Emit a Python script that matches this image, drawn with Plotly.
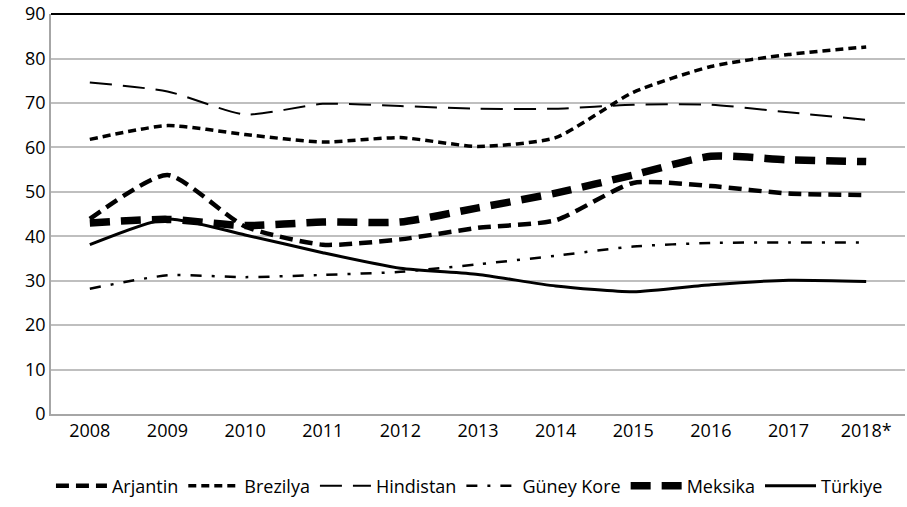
import plotly.graph_objects as go

years = ["2008", "2009", "2010", "2011", "2012", "2013", "2014", "2015", "2016", "2017", "2018*"]

arjantin = [43.9, 53.8, 42.2, 38.1, 39.3, 41.9, 43.6, 52.0, 51.3, 49.6, 49.3]
brezilya = [61.8, 64.9, 62.9, 61.2, 62.2, 60.2, 62.2, 72.4, 78.2, 80.9, 82.6]
hindistan = [74.6, 72.6, 67.4, 69.8, 69.3, 68.7, 68.7, 69.6, 69.6, 67.9, 66.2]
guney_kore = [28.2, 31.2, 30.8, 31.3, 32.0, 33.7, 35.6, 37.7, 38.5, 38.6, 38.6]
meksika = [43.0, 43.8, 42.4, 43.2, 43.2, 46.4, 49.7, 53.8, 58.0, 57.2, 56.8]
turkiye = [38.1, 43.9, 40.3, 36.3, 32.8, 31.4, 28.8, 27.5, 29.1, 30.1, 29.8]

series = [
    ("Arjantin", arjantin, 4.5, "13px,7px"),
    ("Brezilya", brezilya, 3.5, "8px,5px"),
    ("Hindistan", hindistan, 2, "22px,11px"),
    ("Güney Kore", guney_kore, 2.5, "11px,10px,3px,10px"),
    ("Meksika", meksika, 7.5, "20px,11px"),
    ("Türkiye", turkiye, 3, "solid"),
]

fig = go.Figure()
for name, vals, w, dash in series:
    fig.add_trace(go.Scatter(
        x=years, y=vals, name=name, mode="lines",
        line=dict(color="black", width=w, dash=dash, shape="spline", smoothing=0.6),
    ))

fig.update_layout(
    width=907, height=507,
    margin=dict(l=51, r=2, t=14, b=88),
    paper_bgcolor="white", plot_bgcolor="white",
    font=dict(family="Open Sans, Liberation Sans", size=18, color="black"),
    showlegend=True,
    legend=dict(orientation="h", x=0.49, xanchor="center", y=-0.18, yanchor="middle",
                font=dict(size=18), itemwidth=51, tracegroupgap=0,
                traceorder="normal"),
    xaxis=dict(type="category", range=[-0.5, 10.5], showgrid=False, automargin=False,
               showline=True, linecolor="#a6a6a6", linewidth=1.5,
               ticks="", tickfont=dict(size=18)),
    yaxis=dict(range=[0, 90.02], dtick=10, showgrid=True, gridcolor="#bfbfbf",
               gridwidth=1.5, showline=True, linecolor="#a6a6a6", linewidth=1.5,
               zeroline=False, ticks="", tickfont=dict(size=18), automargin=False,
               ticklabeloverflow="allow"),
    shapes=[dict(type="line", xref="paper", yref="paper", x0=0, x1=1, y0=1, y1=1,
                 line=dict(color="black", width=2))],
)

fig.write_html("out.html", config={"displayModeBar": False},
               post_script="document.body.style.margin='0';")
